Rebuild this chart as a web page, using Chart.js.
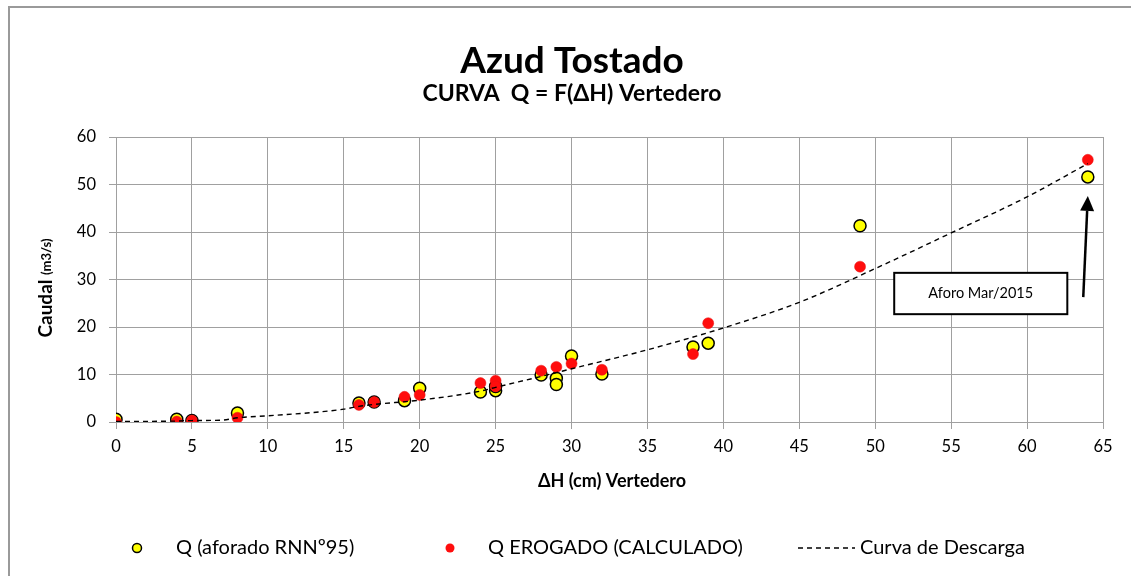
<!DOCTYPE html>
<html>
<head>
<meta charset="utf-8">
<script src="https://cdn.jsdelivr.net/npm/chart.js@4"></script>
<style>
  html, body { margin: 0; background: #fff; }
  #wrap { width: 1131px; height: 576px; }
</style>
</head>
<body>
<div id="wrap"><canvas id="chart"></canvas></div>
<script>
// ── Azud Tostado: Q = f(ΔH) over the weir ─────────────────────────────
const FONT = "Lato, 'Open Sans', sans-serif";

// gaugings: ΔH (cm) and measured discharge (m3/s)
const hAforado = [0, 4, 5, 8, 16, 17, 19, 20, 24, 25, 25, 28, 29, 29, 30, 32, 38, 39, 49, 64];
const qAforado = [0.6, 0.6, 0.3, 1.9, 4.0, 4.2, 4.5, 7.1, 6.3, 6.6, 7.5, 9.9, 9.2, 7.9, 13.9, 10.1, 15.8, 16.6, 41.3, 51.6];

// discharge released (computed) at the same heads
const hErogado = [0, 4, 5, 8, 16, 17, 19, 20, 24, 25, 25, 28, 29, 30, 32, 38, 39, 49, 64];
const qErogado = [0, 0.1, 0.3, 0.9, 3.6, 4.2, 5.3, 5.7, 8.2, 8.7, 7.5, 10.8, 11.6, 12.3, 11.0, 14.3, 20.8, 32.7, 55.2];

// rating curve
const hCurva = [0, 4, 5, 7, 8, 10, 15, 16, 17, 20, 24, 25, 28, 30, 35, 40, 45, 50, 55, 60, 64];
const qCurva = [0.1, 0.2, 0.3, 0.4, 0.9, 1.3, 2.7, 3.3, 3.7, 4.6, 6.5, 7.3, 9.6, 11.2, 15.2, 19.8, 25.2, 32.3, 39.8, 47.4, 54.4];

const xTicks = [0, 5, 10, 15, 20, 25, 30, 35, 40, 45, 50, 55, 60, 65];
const yTicks = [0, 10, 20, 30, 40, 50, 60];

const seriesNames = ["Q (aforado RNNº95)", "Q EROGADO (CALCULADO)", "Curva de Descarga"];

// callout on the March 2015 gauging (data units)
const callout = { text: "Aforo Mar/2015", x0: 51.25, x1: 62.65, y0: 31.4, y1: 22.7, tailX: 63.7, tailY: 26.3, tipX: 64, tipY: 47.6 };

const pts = (xs, ys) => xs.map((x, i) => ({ x, y: ys[i] }));

const decor = {
  id: "decor",
  beforeDraw(chart) {
    const c = chart.ctx;
    c.save();
    c.fillStyle = "#fff";
    c.fillRect(0, 0, chart.width, chart.height);
    c.restore();
  },
  afterDraw(chart) {
    const c = chart.ctx;
    const { x: xs, y: ys } = chart.scales;
    c.save();

    // frame
    c.strokeStyle = "#9a9a9a";
    c.lineWidth = 2;
    c.strokeRect(9, 7, 1130, 600);

    // titles
    c.fillStyle = "#000";
    c.textAlign = "center";
    c.textBaseline = "alphabetic";
    c.font = `bold 37px ${FONT}`;
    c.fillText("Azud Tostado", 572, 73);
    c.font = `bold 23px ${FONT}`;
    c.fillText("CURVA  Q = F(ΔH) Vertedero", 572, 101);

    // x title
    c.font = `bold 18px ${FONT}`;
    c.textBaseline = "middle";
    c.fillText("ΔH (cm) Vertedero", 612, 481);

    // y title, two sizes
    c.save();
    c.translate(46, 288);
    c.rotate(-Math.PI / 2);
    c.textAlign = "left";
    const f1 = `bold 19px ${FONT}`, f2 = `bold 13px ${FONT}`;
    c.font = f1; const w1 = c.measureText("Caudal ").width;
    c.font = f2; const w2 = c.measureText("(m3/s)").width;
    let x = -(w1 + w2) / 2;
    c.font = f1; c.fillText("Caudal ", x, 0);
    c.font = f2; c.fillText("(m3/s)", x + w1, 1);
    c.restore();

    // callout box + arrow
    const bx0 = xs.getPixelForValue(callout.x0), bx1 = xs.getPixelForValue(callout.x1);
    const by0 = ys.getPixelForValue(callout.y0), by1 = ys.getPixelForValue(callout.y1);
    c.fillStyle = "#fff";
    c.fillRect(bx0, by0, bx1 - bx0, by1 - by0);
    c.strokeStyle = "#000";
    c.lineWidth = 2;
    c.strokeRect(bx0, by0, bx1 - bx0, by1 - by0);
    c.fillStyle = "#000";
    c.font = `14.5px ${FONT}`;
    c.textAlign = "center";
    c.fillText(callout.text, (bx0 + bx1) / 2, (by0 + by1) / 2);

    const tx = xs.getPixelForValue(callout.tailX), ty = ys.getPixelForValue(callout.tailY);
    const hx = xs.getPixelForValue(callout.tipX), hy = ys.getPixelForValue(callout.tipY);
    const ang = Math.atan2(hy - ty, hx - tx);
    const L = 15, W = 7;
    const bxp = hx - L * Math.cos(ang), byp = hy - L * Math.sin(ang);
    c.lineWidth = 2.5;
    c.beginPath(); c.moveTo(tx, ty); c.lineTo(bxp, byp); c.stroke();
    c.beginPath();
    c.moveTo(hx, hy);
    c.lineTo(bxp + W * Math.sin(ang), byp - W * Math.cos(ang));
    c.lineTo(bxp - W * Math.sin(ang), byp + W * Math.cos(ang));
    c.closePath(); c.fill();

    // legend
    const ly = 548;
    c.font = `20px ${FONT}`;
    c.textAlign = "left";
    c.textBaseline = "middle";
    const ds = chart.data.datasets;
    c.lineWidth = 1.5;
    c.fillStyle = ds[0].backgroundColor; c.strokeStyle = ds[0].borderColor;
    c.beginPath(); c.arc(137, ly, 4.5, 0, Math.PI * 2); c.fill(); c.stroke();
    c.fillStyle = ds[1].backgroundColor;
    c.beginPath(); c.arc(450, ly, 4.5, 0, Math.PI * 2); c.fill();
    c.strokeStyle = "#000"; c.setLineDash(ds[2].borderDash);
    c.beginPath(); c.moveTo(798, ly); c.lineTo(855, ly); c.stroke();
    c.setLineDash([]);
    c.fillStyle = "#000";
    c.fillText(seriesNames[0], 176, ly);
    c.fillText(seriesNames[1], 488, ly);
    c.fillText(seriesNames[2], 860, ly);

    c.restore();
  }
};

new Chart(document.getElementById("chart"), {
  type: "scatter",
  data: {
    datasets: [
      {
        label: seriesNames[0], data: pts(hAforado, qAforado), order: 3,
        backgroundColor: "#ffff00", borderColor: "#000", borderWidth: 1.5, pointRadius: 6,
      },
      {
        label: seriesNames[1], data: pts(hErogado, qErogado), order: 2,
        backgroundColor: "#ff0d0d", borderColor: "#e81010", borderWidth: 0.5, pointRadius: 5.5,
      },
      {
        label: seriesNames[2], data: pts(hCurva, qCurva), order: 1,
        showLine: true, pointRadius: 0, borderColor: "#000", borderWidth: 1.4,
        borderDash: [5, 4], cubicInterpolationMode: "monotone", fill: false,
      },
    ],
  },
  options: {
    responsive: true, maintainAspectRatio: false, animation: false,
    layout: { padding: { left: 0, right: 28, top: 137, bottom: 114 } },
    plugins: { legend: { display: false }, tooltip: { enabled: false }, title: { display: false } },
    scales: {
      x: {
        type: "linear", min: xTicks[0], max: xTicks[xTicks.length - 1],
        afterFit(s) { s.height = 40; },
        afterBuildTicks(s) { s.ticks = xTicks.map(v => ({ value: v })); },
        ticks: { color: "#000", font: { family: FONT, size: 16.5 }, padding: 8, maxRotation: 0 },
        grid: { color: "#a0a0a0", lineWidth: 1, tickLength: 7 },
        border: { color: "#a0a0a0" },
      },
      y: {
        type: "linear", min: yTicks[0], max: yTicks[yTicks.length - 1],
        afterFit(s) { s.width = 116; },
        afterBuildTicks(s) { s.ticks = yTicks.map(v => ({ value: v })); },
        ticks: { color: "#000", font: { family: FONT, size: 16.5 }, padding: 13 },
        grid: { color: "#a0a0a0", lineWidth: 1, tickLength: 7 },
        border: { color: "#a0a0a0" },
      },
    },
  },
  plugins: [decor],
});
</script>
</body>
</html>
